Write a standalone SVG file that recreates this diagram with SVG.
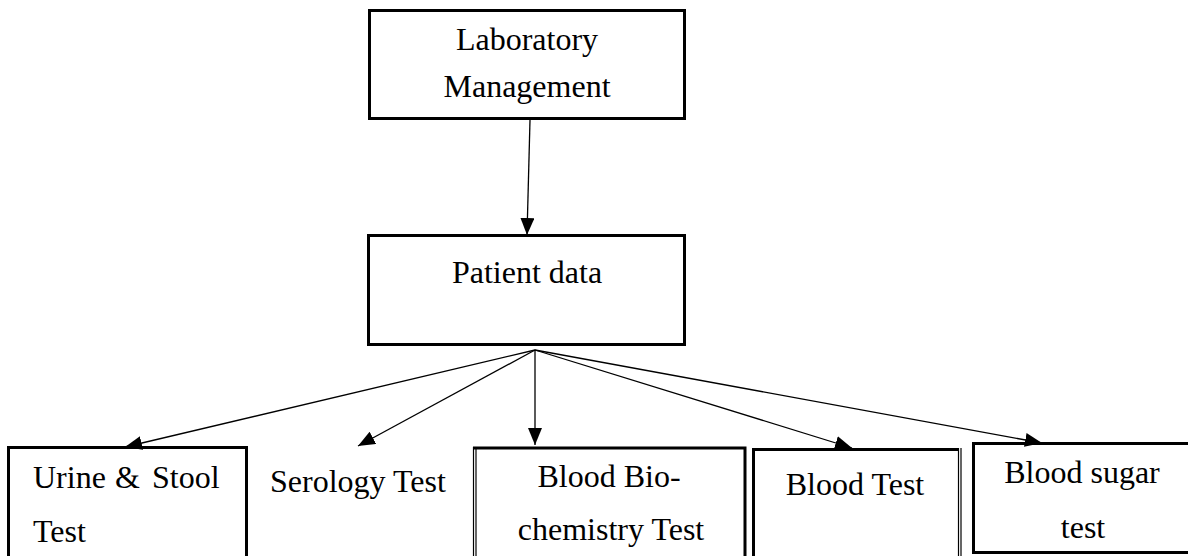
<svg xmlns="http://www.w3.org/2000/svg" width="1188" height="556" viewBox="0 0 1188 556">
  <style>
    .box { fill: none; stroke: #000; stroke-width: 3; }
    .thin { fill: none; stroke: #000; stroke-width: 1.2; }
    .lbl { font-family: "Liberation Serif", "Times New Roman", serif; font-size: 32px; fill: #000; }
    .mid { text-anchor: middle; }
    .edge { stroke: #000; stroke-width: 1.3; fill: none; marker-end: url(#arrow); }
  </style>
  <defs>
    <marker id="arrow" markerUnits="userSpaceOnUse" markerWidth="18" markerHeight="14" refX="17" refY="7" orient="auto">
      <path d="M0,0 L17,7 L0,14 Z" fill="#000"/>
    </marker>
  </defs>
  <rect width="1188" height="556" fill="#fff"/>

  <g id="lab-management">
    <rect class="box" x="369.5" y="10.5" width="315" height="108"/>
    <text class="lbl mid" x="527" y="50">Laboratory</text>
    <text class="lbl mid" x="527" y="97">Management</text>
  </g>

  <g id="patient-data">
    <rect class="box" x="368.5" y="235.5" width="316" height="109"/>
    <text class="lbl mid" x="527" y="283">Patient data</text>
  </g>

  <g id="urine-stool">
    <rect class="box" x="8.5" y="447.5" width="238" height="130"/>
    <text class="lbl" y="488"><tspan x="33">Urine</tspan><tspan x="115">&amp;</tspan><tspan x="152">Stool</tspan></text>
    <text class="lbl" x="33" y="542">Test</text>
  </g>

  <g id="serology">
    <text class="lbl" x="270" y="492">Serology Test</text>
  </g>

  <g id="biochemistry">
    <path class="box" d="M473,448 H745 V570"/>
    <line class="thin" x1="473.5" y1="447" x2="473.5" y2="570"/>
    <line class="thin" x1="476" y1="449" x2="476" y2="570"/>
    <text class="lbl mid" x="609" y="487">Blood Bio-</text>
    <text class="lbl mid" x="611" y="540">chemistry Test</text>
  </g>

  <g id="blood-test">
    <path class="box" d="M753.5,570 V449.5 H958"/>
    <line class="thin" x1="958.5" y1="448" x2="958.5" y2="570"/>
    <line class="thin" x1="961" y1="448" x2="961" y2="570"/>
    <text class="lbl mid" x="855" y="495">Blood Test</text>
  </g>

  <g id="blood-sugar">
    <rect class="box" x="973.5" y="443.5" width="230" height="109"/>
    <text class="lbl mid" x="1082" y="483">Blood sugar</text>
    <text class="lbl mid" x="1083" y="538">test</text>
  </g>

  <g id="connectors">
    <line class="edge" x1="530" y1="120" x2="527" y2="235"/>
    <line class="edge" x1="535" y1="350" x2="125" y2="447"/>
    <line class="edge" x1="535" y1="350" x2="358" y2="446"/>
    <line class="edge" x1="535" y1="350" x2="535" y2="445"/>
    <line class="edge" x1="535" y1="350" x2="852" y2="448"/>
    <line class="edge" x1="535" y1="350" x2="1042" y2="443"/>
  </g>
</svg>
